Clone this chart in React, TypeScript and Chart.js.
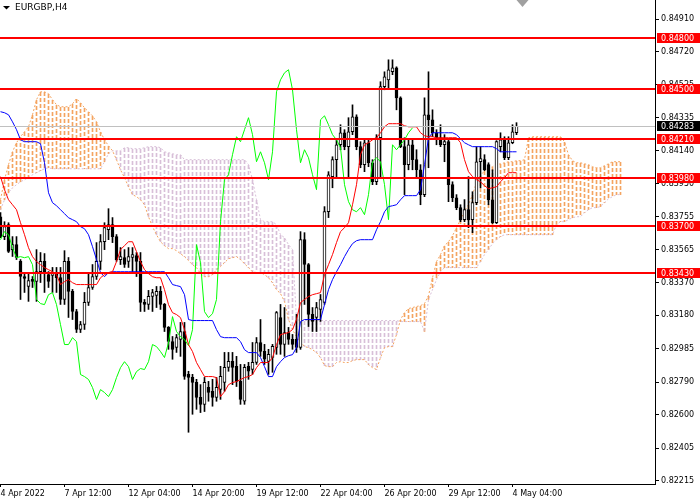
import React, { useEffect, useRef } from "react";
import { Chart, registerables } from "chart.js";

Chart.register(...registerables);

const SYMBOL = "EURGBP,H4";
const LEVELS = [0.848, 0.845, 0.8421, 0.8398, 0.837, 0.8343];
const CURRENT_PRICE = 0.84283;
const Y_TICKS = [0.8491, 0.8472, 0.84525, 0.84335, 0.8414, 0.8395, 0.83755, 0.83565, 0.8337, 0.8318, 0.82985, 0.8279, 0.826, 0.82405, 0.82215];
const X_TICKS = [0, 16, 32, 48, 64, 80, 96, 112, 128];
const X_LABELS = ["4 Apr 2022", "7 Apr 12:00", "12 Apr 04:00", "14 Apr 20:00", "19 Apr 12:00", "22 Apr 04:00", "26 Apr 20:00", "29 Apr 12:00", "4 May 04:00"];

const OPEN = [
  0.83756, 0.8364, 0.8371, 0.83564, 0.83594, 0.83495, 0.83407, 0.83349, 0.8339, 0.83378,
  0.83436, 0.83495, 0.83419, 0.83413, 0.8343, 0.83401, 0.83273, 0.83495, 0.8332, 0.83203,
  0.83098, 0.83127, 0.83256, 0.83343, 0.83407, 0.83495, 0.83611, 0.83681, 0.8371, 0.8364,
  0.83506, 0.83518, 0.83495, 0.83518, 0.83529, 0.83495, 0.83256, 0.83244, 0.83291, 0.83297,
  0.8332, 0.83244, 0.8311, 0.83028, 0.82993, 0.8304, 0.83086, 0.82836, 0.82818, 0.82789,
  0.82702, 0.82661, 0.8276, 0.82737, 0.82702, 0.82748, 0.82789, 0.82877, 0.82912, 0.82883,
  0.82795, 0.82679, 0.82883, 0.82865, 0.82906, 0.83022, 0.8297, 0.82912, 0.82935, 0.82993,
  0.83168, 0.83011, 0.8308, 0.8304, 0.8304, 0.82993, 0.83622, 0.83477, 0.83186, 0.83168,
  0.83215, 0.83256, 0.83786, 0.8399, 0.84089, 0.84176, 0.84246, 0.84165, 0.84252, 0.84339,
  0.84165, 0.8406, 0.84188, 0.84071, 0.8396, 0.84217, 0.84515, 0.84555, 0.84602, 0.84625,
  0.8445, 0.84165, 0.8406, 0.84176, 0.84089, 0.8403, 0.83885, 0.84351, 0.84322, 0.84246,
  0.84217, 0.84176, 0.84194, 0.83943, 0.83867, 0.83809, 0.83739, 0.83797, 0.83739, 0.83838,
  0.84077, 0.84089, 0.8406, 0.83855, 0.83721, 0.84165, 0.84205, 0.841, 0.84188, 0.84246,
];
const HIGH = [
  0.8378, 0.83727, 0.83721, 0.8364, 0.8364, 0.83506, 0.8343, 0.8343, 0.83407, 0.83564,
  0.83547, 0.83541, 0.83436, 0.8346, 0.8346, 0.8346, 0.83558, 0.83518, 0.83332, 0.83215,
  0.83145, 0.83314, 0.8343, 0.83477, 0.83605, 0.83652, 0.83721, 0.83803, 0.83751, 0.83652,
  0.83576, 0.83564, 0.83576, 0.83576, 0.83547, 0.83547, 0.83273, 0.83326, 0.83332, 0.83349,
  0.83349, 0.8325, 0.83115, 0.83057, 0.83069, 0.83139, 0.83139, 0.82854, 0.82836, 0.82807,
  0.82776, 0.82818, 0.82795, 0.82807, 0.82818, 0.82883, 0.82964, 0.82964, 0.82964, 0.82941,
  0.82894, 0.82894, 0.82906, 0.83022, 0.83051, 0.83156, 0.83011, 0.82982, 0.83011, 0.83203,
  0.83244, 0.83226, 0.8311, 0.83069, 0.83186, 0.83669, 0.83663, 0.83483, 0.83226, 0.83256,
  0.83302, 0.83815, 0.84019, 0.84106, 0.84205, 0.84293, 0.84264, 0.84334, 0.84409, 0.84351,
  0.84194, 0.84205, 0.84205, 0.84089, 0.84235, 0.84544, 0.84602, 0.84672, 0.84672, 0.84631,
  0.84456, 0.84217, 0.84205, 0.84205, 0.84147, 0.8406, 0.8445, 0.84602, 0.8438, 0.84264,
  0.84293, 0.84235, 0.84205, 0.8396, 0.83885, 0.83826, 0.83856, 0.8399, 0.83902, 0.84165,
  0.84165, 0.84118, 0.84071, 0.8403, 0.842, 0.84246, 0.84223, 0.84223, 0.84293, 0.84305,
];
const LOW = [
  0.83634, 0.83622, 0.83547, 0.83524, 0.83506, 0.83273, 0.83314, 0.83262, 0.83343, 0.83262,
  0.83372, 0.83314, 0.83343, 0.83314, 0.83314, 0.83244, 0.83244, 0.83168, 0.83156, 0.8308,
  0.8308, 0.83098, 0.83238, 0.83332, 0.8339, 0.83448, 0.83564, 0.83622, 0.83605, 0.83495,
  0.83477, 0.8346, 0.8346, 0.83436, 0.83407, 0.83203, 0.83203, 0.83215, 0.83203, 0.83226,
  0.83215, 0.83086, 0.82982, 0.82924, 0.82964, 0.82941, 0.82807, 0.82498, 0.82603, 0.82632,
  0.82613, 0.82619, 0.82679, 0.8265, 0.82679, 0.8269, 0.82737, 0.82854, 0.82776, 0.82765,
  0.82661, 0.82661, 0.82807, 0.82836, 0.82894, 0.82941, 0.82894, 0.82836, 0.82848, 0.82953,
  0.82953, 0.82941, 0.83011, 0.82982, 0.82964, 0.82982, 0.83244, 0.83115, 0.83086, 0.83086,
  0.83145, 0.83244, 0.83751, 0.83925, 0.83984, 0.84147, 0.84147, 0.83984, 0.84235, 0.84147,
  0.84042, 0.84019, 0.84048, 0.83943, 0.83943, 0.83984, 0.84497, 0.84509, 0.84585, 0.8438,
  0.84159, 0.83885, 0.8403, 0.8403, 0.83984, 0.83826, 0.83873, 0.84042, 0.84223, 0.84176,
  0.84165, 0.84077, 0.83844, 0.83844, 0.83797, 0.83727, 0.83727, 0.83692, 0.83663, 0.83826,
  0.83925, 0.84025, 0.83826, 0.83716, 0.83716, 0.84135, 0.84089, 0.84089, 0.84182, 0.84235,
];
const CLOSE = [
  0.8364, 0.83698, 0.83553, 0.83594, 0.83518, 0.83407, 0.83396, 0.83384, 0.83378, 0.83436,
  0.83495, 0.8343, 0.83378, 0.8343, 0.83401, 0.83273, 0.83495, 0.8332, 0.83203, 0.83098,
  0.83127, 0.83256, 0.83343, 0.83407, 0.83495, 0.83611, 0.83692, 0.8371, 0.8364, 0.83506,
  0.83524, 0.83477, 0.83524, 0.83535, 0.83495, 0.83256, 0.83244, 0.83291, 0.83314, 0.8332,
  0.83244, 0.8311, 0.83028, 0.82982, 0.83051, 0.83086, 0.82824, 0.82818, 0.82789, 0.82702,
  0.82661, 0.82789, 0.82731, 0.82702, 0.8276, 0.82824, 0.82877, 0.82912, 0.82877, 0.82795,
  0.8269, 0.82877, 0.82854, 0.82906, 0.83022, 0.8297, 0.82924, 0.82953, 0.82999, 0.83197,
  0.83011, 0.8308, 0.8304, 0.83011, 0.82993, 0.83622, 0.83477, 0.83186, 0.83145, 0.83226,
  0.83273, 0.83786, 0.84001, 0.84089, 0.84176, 0.84246, 0.84165, 0.84252, 0.84339, 0.84165,
  0.8406, 0.84188, 0.84071, 0.8396, 0.84217, 0.84515, 0.84573, 0.84614, 0.84625, 0.8445,
  0.84165, 0.8406, 0.84176, 0.84089, 0.8403, 0.83885, 0.84351, 0.84322, 0.84246, 0.84217,
  0.84176, 0.84194, 0.83943, 0.83867, 0.83809, 0.83739, 0.83797, 0.83739, 0.83838, 0.84077,
  0.84095, 0.8403, 0.83855, 0.83721, 0.84194, 0.84205, 0.841, 0.84188, 0.84252, 0.84283,
];

const TENKAN = [
  0.8399, 0.83914, 0.83855, 0.83826, 0.83797, 0.83721, 0.83651, 0.83575, 0.83523, 0.83494,
  0.83476, 0.83459, 0.83447, 0.83435, 0.83418, 0.8336, 0.83377, 0.83389, 0.83371, 0.8336,
  0.8336, 0.8336, 0.8336, 0.8336, 0.8336, 0.834, 0.83418, 0.8343, 0.83435, 0.83494,
  0.83564, 0.83587, 0.8361, 0.8361, 0.83552, 0.83494, 0.83447, 0.83424, 0.83406, 0.834,
  0.834, 0.8333, 0.83243, 0.83196, 0.83185, 0.83167, 0.83097, 0.8301, 0.82969, 0.82905,
  0.82864, 0.82823, 0.82823, 0.82823, 0.82817, 0.82706, 0.82735, 0.82776, 0.82788, 0.82794,
  0.82806, 0.82817, 0.82823, 0.82835, 0.82875, 0.82905, 0.82905, 0.82905, 0.82934, 0.8301,
  0.83068, 0.83074, 0.8308, 0.83097, 0.83156, 0.83255, 0.83273, 0.8329, 0.83301, 0.83307,
  0.83313, 0.83418, 0.83476, 0.83535, 0.83605, 0.83669, 0.83692, 0.83721, 0.83826, 0.83943,
  0.84118, 0.84176, 0.84188, 0.84205, 0.84217, 0.84246, 0.84281, 0.84299, 0.84299, 0.84299,
  0.84299, 0.84287, 0.84281, 0.84281, 0.84281, 0.84246, 0.84229, 0.84223, 0.84223, 0.84217,
  0.84217, 0.84217, 0.84217, 0.84217, 0.84217, 0.84188, 0.84089, 0.84019, 0.8399, 0.83972,
  0.8396, 0.83937, 0.8392, 0.83925, 0.83931, 0.8396, 0.83984, 0.84013, 0.84013, 0.84013,
];
const KIJUN = [
  0.84369, 0.84363, 0.84351, 0.8431, 0.84264, 0.84205, 0.84194, 0.84194, 0.84194, 0.84194,
  0.84182, 0.84071, 0.83896, 0.83838, 0.8382, 0.83797, 0.83774, 0.8375, 0.83739, 0.83727,
  0.83698, 0.83686, 0.83651, 0.83581, 0.83506, 0.8343, 0.83406, 0.8343, 0.83435, 0.83435,
  0.83435, 0.83435, 0.83435, 0.83435, 0.83435, 0.83435, 0.83435, 0.83435, 0.83435, 0.83435,
  0.83435, 0.83435, 0.834, 0.8336, 0.83354, 0.83348, 0.83301, 0.83156, 0.8315, 0.8315,
  0.8315, 0.8315, 0.8315, 0.8315, 0.83097, 0.83056, 0.8305, 0.8305, 0.8305, 0.8305,
  0.83027, 0.8298, 0.82963, 0.82963, 0.82963, 0.82934, 0.82881, 0.82823, 0.82823, 0.82881,
  0.8291, 0.82934, 0.82945, 0.82951, 0.82992, 0.83144, 0.83156, 0.83156, 0.83156, 0.83156,
  0.83156, 0.83243, 0.8333, 0.83389, 0.83435, 0.83476, 0.83523, 0.83564, 0.83599, 0.83616,
  0.83622, 0.83622, 0.83622, 0.83622, 0.8368, 0.83727, 0.83785, 0.83815, 0.8382, 0.83826,
  0.83855, 0.83879, 0.83879, 0.83879, 0.83879, 0.83914, 0.8406, 0.84217, 0.84246, 0.84246,
  0.84246, 0.84246, 0.84246, 0.84246, 0.84235, 0.84211, 0.84188, 0.84176, 0.84165, 0.84165,
  0.84165, 0.84165, 0.84165, 0.84165, 0.84153, 0.84135, 0.84135, 0.84135, 0.84135, 0.84135,
];
const CHIKOU = [
  0.83622, 0.83669, 0.83651, 0.83575, 0.83517, 0.83523, 0.83517, 0.83523, 0.83476, 0.83273,
  0.83249, 0.83243, 0.83301, 0.83313, 0.83243, 0.83126, 0.8301, 0.8301, 0.8305, 0.83027,
  0.82835, 0.82823, 0.82806, 0.82759, 0.82689, 0.82747, 0.8273, 0.82706, 0.82747, 0.82817,
  0.82875, 0.8291, 0.82881, 0.82806, 0.82852, 0.8287, 0.82864, 0.8291, 0.8301, 0.82998,
  0.82969, 0.82934, 0.83021, 0.83173, 0.83086, 0.83056, 0.83039, 0.83004, 0.83097, 0.83593,
  0.83488, 0.83202, 0.83167, 0.8319, 0.83273, 0.83727, 0.83972, 0.84001, 0.84118, 0.84223,
  0.84194, 0.84264, 0.84334, 0.84235, 0.84077, 0.84135, 0.84071, 0.83972, 0.84135, 0.84485,
  0.84555, 0.84596, 0.84614, 0.84497, 0.84264, 0.84071, 0.84147, 0.841, 0.84001, 0.83914,
  0.84322, 0.84345, 0.84293, 0.84235, 0.84205, 0.84159, 0.83943, 0.83844, 0.83797, 0.83785,
  0.83809, 0.83768, 0.83885, 0.84077, 0.841, 0.84077, 0.83943, 0.83739, 0.84176, 0.84147,
  0.84176, 0.84205, 0.84246, 0.84275,
];
const SPAN_A = [
  0.83855, 0.83972, 0.8406, 0.84135, 0.84188, 0.84223, 0.84252, 0.84281, 0.84351, 0.84439,
  0.84485, 0.84485, 0.84474, 0.84439, 0.8441, 0.84398, 0.84398, 0.84398, 0.84415, 0.84445,
  0.84421, 0.84392, 0.84369, 0.84345, 0.8431, 0.84252, 0.84205, 0.8417, 0.84141, 0.84089,
  0.8403, 0.83984, 0.83931, 0.83885, 0.83873, 0.83855, 0.83826, 0.83756, 0.83698, 0.83651,
  0.8361, 0.83587, 0.8357, 0.8357, 0.83558, 0.8354, 0.83523, 0.835, 0.83476, 0.83459,
  0.83424, 0.83406, 0.83406, 0.83418, 0.83447, 0.83465, 0.83488, 0.83511, 0.83517, 0.83523,
  0.83506, 0.83482, 0.83459, 0.83435, 0.8343, 0.8343, 0.83418, 0.834, 0.83371, 0.8333,
  0.83307, 0.83262, 0.83156, 0.83097, 0.83056, 0.83027, 0.82998, 0.82992, 0.8298, 0.82963,
  0.82934, 0.82887, 0.82881, 0.82881, 0.82905, 0.8291, 0.82905, 0.82905, 0.82916, 0.82922,
  0.82922, 0.82922, 0.82893, 0.82875, 0.82864, 0.82934, 0.82992, 0.82998, 0.82998, 0.83068,
  0.83156, 0.83196, 0.8322, 0.83226, 0.83232, 0.83237, 0.83249, 0.83295, 0.834, 0.83494,
  0.83535, 0.83587, 0.8361, 0.83645, 0.83692, 0.83739, 0.83791, 0.83826, 0.83885, 0.83955,
  0.83995, 0.84025, 0.84042, 0.84048, 0.8406, 0.84065, 0.84071, 0.84077, 0.84077, 0.84083,
  0.84083, 0.84089, 0.84217, 0.84223, 0.84223, 0.84223, 0.84223, 0.84223, 0.84223, 0.84223,
  0.84223, 0.84194, 0.84118, 0.84083, 0.84071, 0.84071, 0.84065, 0.8406, 0.84048, 0.84042,
  0.84042, 0.84054, 0.84065, 0.84077, 0.84077, 0.84077,
];
const SPAN_B = [
  0.83797, 0.83855, 0.83896, 0.83925, 0.83943, 0.8396, 0.83972, 0.83984, 0.84001, 0.84013,
  0.84025, 0.84036, 0.84042, 0.84036, 0.84036, 0.84036, 0.84036, 0.84036, 0.84036, 0.84036,
  0.84036, 0.84036, 0.84036, 0.84036, 0.84036, 0.84036, 0.84077, 0.84124, 0.84141, 0.84141,
  0.84141, 0.84159, 0.84159, 0.84153, 0.84153, 0.84153, 0.84159, 0.84165, 0.84165, 0.84165,
  0.84159, 0.84135, 0.8413, 0.84124, 0.84118, 0.84118, 0.84089, 0.84089, 0.84089, 0.84089,
  0.84089, 0.84089, 0.84089, 0.84089, 0.84089, 0.84089, 0.84089, 0.84089, 0.84089, 0.84089,
  0.84089, 0.84089, 0.8406, 0.83972, 0.83855, 0.83739, 0.83727, 0.83727, 0.83727, 0.8371,
  0.83651, 0.83634, 0.83593, 0.83564, 0.83156, 0.8315, 0.8315, 0.8315, 0.8315, 0.8315,
  0.8315, 0.8315, 0.8315, 0.8315, 0.8315, 0.8315, 0.8315, 0.8315, 0.8315, 0.8315,
  0.8315, 0.8315, 0.8315, 0.8315, 0.8315, 0.8315, 0.8315, 0.8315, 0.8315, 0.8315,
  0.83144, 0.83144, 0.83144, 0.83144, 0.83144, 0.83144, 0.83086, 0.83273, 0.8333, 0.83389,
  0.83435, 0.83459, 0.83459, 0.83459, 0.83459, 0.83459, 0.83459, 0.83459, 0.83459, 0.83459,
  0.83494, 0.83535, 0.83564, 0.83599, 0.83622, 0.8364, 0.83651, 0.83651, 0.83651, 0.83651,
  0.83651, 0.83651, 0.83651, 0.83651, 0.83651, 0.83651, 0.83651, 0.83651, 0.83651, 0.8371,
  0.83727, 0.83727, 0.83739, 0.8375, 0.83756, 0.83756, 0.8378, 0.83797, 0.83809, 0.83809,
  0.83815, 0.83838, 0.83861, 0.83873, 0.83885, 0.83885,
];

const FONT = "DejaVu Sans";

const overlayPlugin = {
  id: "mt4Overlay",
  afterDatasetsDraw(chart: any) {
    const { ctx, chartArea: a, scales } = chart;
    const y = scales.y;
    ctx.save();
    ctx.beginPath();
    ctx.rect(a.left, a.top, a.right - a.left, a.bottom - a.top);
    ctx.clip();
    const cy = Math.round(y.getPixelForValue(CURRENT_PRICE)) + 0.5;
    ctx.strokeStyle = "#c0c0c0";
    ctx.lineWidth = 1;
    ctx.beginPath();
    ctx.moveTo(a.left, cy);
    ctx.lineTo(a.right, cy);
    ctx.stroke();
    ctx.strokeStyle = "#ff0000";
    ctx.lineWidth = 2;
    for (const v of LEVELS) {
      const py = Math.round(y.getPixelForValue(v));
      ctx.beginPath();
      ctx.moveTo(a.left, py);
      ctx.lineTo(a.right, py);
      ctx.stroke();
    }
    ctx.restore();
  },
  afterDraw(chart: any) {
    const { ctx, chartArea: a, scales } = chart;
    const y = scales.y;
    const x = scales.x;
    ctx.save();
    ctx.font = `8px "${FONT}"`;
    ctx.textBaseline = "middle";
    ctx.textAlign = "left";
    const box = (v: number, bg: string) => {
      const py = Math.round(y.getPixelForValue(v));
      ctx.fillStyle = bg;
      ctx.fillRect(a.right + 2, py - 5, 43, 10);
      ctx.fillStyle = "#ffffff";
      ctx.fillText(v.toFixed(5), a.right + 6, py + 0.5);
    };
    LEVELS.forEach((v) => box(v, "#ff0000"));
    box(CURRENT_PRICE, "#000000");
    // symbol caption
    ctx.fillStyle = "#000";
    ctx.beginPath();
    ctx.moveTo(3, 6);
    ctx.lineTo(10, 6);
    ctx.lineTo(6.5, 9.5);
    ctx.closePath();
    ctx.fill();
    ctx.font = `9px "${FONT}"`;
    ctx.fillText(SYMBOL, 15, 8);
    // chart shift marker
    const sx = x.getPixelForValue(CLOSE.length + 0.5);
    ctx.fillStyle = "#a0a0a0";
    ctx.beginPath();
    ctx.moveTo(sx - 6, 0);
    ctx.lineTo(sx + 6, 0);
    ctx.lineTo(sx, 7);
    ctx.closePath();
    ctx.fill();
    ctx.restore();
  },
};

function makeDashTile(color: string) {
  const c = document.createElement("canvas");
  c.width = 1;
  c.height = 6;
  const g = c.getContext("2d")!;
  g.fillStyle = color;
  g.fillRect(0, 0, 1, 4);
  return c;
}

export default function App() {
  const ref = useRef<HTMLCanvasElement>(null);
  useEffect(() => {
    const canvas = ref.current!;
    const ctx = canvas.getContext("2d")!;
    const orangeTile = makeDashTile("#F4A460");
    const thistleTile = makeDashTile("#D8BFD8");

    const cloud = SPAN_A.map((a, i) => ({ x: i, y: [a, SPAN_B[i]] }));
    const cloudColor = (c: any) => {
      const i = c.dataIndex;
      if (i === undefined) return "rgba(0,0,0,0)";
      const up = SPAN_A[i] >= SPAN_B[i];
      const p = ctx.createPattern(up ? orangeTile : thistleTile, "repeat")!;
      const ys = c.chart.scales && c.chart.scales.y;
      if (ys) {
        const top = Math.round(ys.getPixelForValue(Math.max(SPAN_A[i], SPAN_B[i])));
        p.setTransform(new DOMMatrix([1, 0, 0, 1, 0, top]));
      }
      return p;
    };
    const wicks = CLOSE.map((_, i) => ({ x: i, y: [LOW[i], HIGH[i]] }));
    const bodies = CLOSE.map((c, i) => ({ x: i, y: [OPEN[i], c] }));
    const bodyColors = CLOSE.map((c, i) => (c >= OPEN[i] ? "#ffffff" : "#000000"));
    const line = (arr: number[]) => arr.map((v, i) => ({ x: i, y: v }));

    const lineBase = { type: "line", pointRadius: 0, borderWidth: 1, tension: 0, fill: false };

    const chart = new Chart(canvas, {
      type: "bar",
      data: {
        datasets: [
          { type: "bar", data: cloud, backgroundColor: cloudColor, borderWidth: 0, barThickness: 1, grouped: false, order: 10 } as any,
          { ...lineBase, data: line(SPAN_A), borderColor: "#F4A460", borderDash: [2, 2], order: 9 } as any,
          { ...lineBase, data: line(SPAN_B), borderColor: "#D8BFD8", borderDash: [2, 2], order: 9 } as any,
          { type: "bar", data: wicks, backgroundColor: "#000000", borderWidth: 0, barThickness: 1, grouped: false, order: 5 } as any,
          {
            type: "bar", data: bodies, backgroundColor: bodyColors, borderColor: "#000000", borderWidth: 1,
            borderSkipped: false, barThickness: 3, grouped: false, minBarLength: 1, order: 4,
          } as any,
          { ...lineBase, data: line(CHIKOU), borderColor: "#00ff00", order: 3 } as any,
          { ...lineBase, data: line(KIJUN), borderColor: "#0000ff", order: 2 } as any,
          { ...lineBase, data: line(TENKAN), borderColor: "#ff0000", order: 1 } as any,
        ],
      },
      options: {
        responsive: false,
        maintainAspectRatio: false,
        devicePixelRatio: 1,
        animation: false,
        events: [],
        layout: { padding: 0 },
        plugins: { legend: { display: false }, tooltip: { enabled: false }, title: { display: false } },
        scales: {
          x: {
            type: "linear",
            min: -0.125,
            max: 163.625,
            offset: false,
            grid: { display: true, drawOnChartArea: false, drawTicks: true, tickLength: 3, color: "#000", offset: false },
            border: { display: true, color: "#000", width: 1 },
            ticks: {
              autoSkip: false, maxRotation: 0, minRotation: 0, align: "start", padding: 2, color: "#000",
              font: { family: FONT, size: 8 },
              callback: (v: any) => {
                const k = X_TICKS.indexOf(Number(v));
                return k >= 0 ? X_LABELS[k] : "";
              },
            },
            afterBuildTicks: (s: any) => { s.ticks = X_TICKS.map((v) => ({ value: v })); },
            afterFit: (s: any) => { s.height = 16; s.paddingLeft = 0; s.paddingRight = 0; },
          },
          y: {
            type: "linear",
            position: "right",
            min: 0.82196,
            max: 0.85021,
            grid: { display: true, drawOnChartArea: false, drawTicks: true, tickLength: 4, color: "#000" },
            border: { display: true, color: "#000", width: 1 },
            ticks: {
              autoSkip: false, padding: 2, color: "#000",
              font: { family: FONT, size: 8 },
              callback: (v: any) => Number(v).toFixed(5),
            },
            afterBuildTicks: (s: any) => { s.ticks = Y_TICKS.map((v) => ({ value: v })); },
            afterFit: (s: any) => { s.width = 45; s.paddingTop = 0; s.paddingBottom = 0; },
          },
        },
      } as any,
      plugins: [overlayPlugin],
    });
    return () => chart.destroy();
  }, []);

  return (
    <div style={{ position: "fixed", left: 0, top: 0, width: 700, height: 500, background: "#fff" }}>
      <canvas ref={ref} width={700} height={500} style={{ display: "block", width: 700, height: 500 }} />
    </div>
  );
}
